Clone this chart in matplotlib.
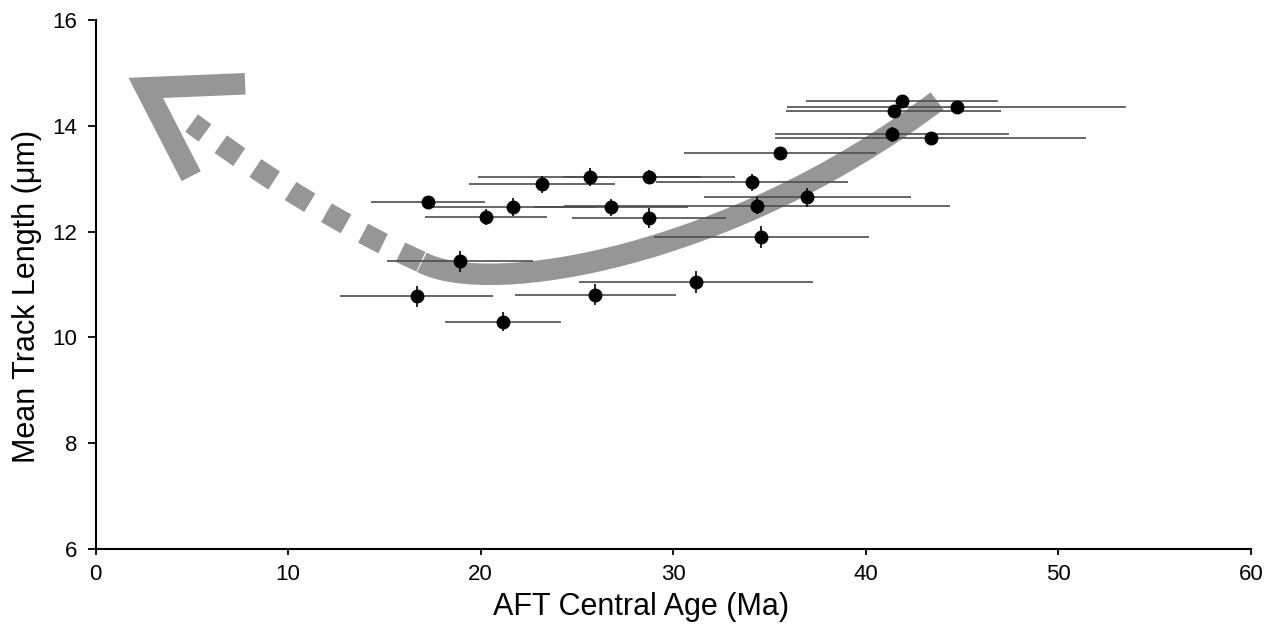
import matplotlib
matplotlib.use("Agg")
import matplotlib.pyplot as plt
import numpy as np
from matplotlib.path import Path
from matplotlib.patches import PathPatch

plt.rcParams['font.family'] = ['Liberation Sans', 'DejaVu Sans']

# ---- data ----
central_age = [17.27, 18.95, 16.67, 21.16, 20.28, 21.68, 23.19, 25.66, 25.96, 26.77,
               28.74, 28.74, 31.18, 34.07, 34.36, 34.57, 35.56, 36.96, 41.35, 41.45,
               41.87, 43.36, 44.71]
mean_track = [12.55, 11.44, 10.78, 10.30, 12.28, 12.47, 12.89, 13.03, 10.81, 12.46,
              13.03, 12.26, 11.04, 12.93, 12.49, 11.90, 13.48, 12.65, 13.84, 14.28,
              14.46, 13.76, 14.36]
age_err = [2.96, 3.79, 3.99, 2.99, 3.19, 4.28, 3.79, 5.78, 4.18, 3.99,
           4.48, 3.99, 6.08, 4.98, 10.01, 5.58, 4.98, 5.38, 6.08, 5.58,
           4.98, 8.07, 8.82]
track_err = [0.12, 0.2, 0.2, 0.18, 0.15, 0.17, 0.16, 0.17, 0.2, 0.16,
             0.14, 0.19, 0.21, 0.16, 0.16, 0.21, 0.1, 0.18, 0.14, 0.1,
             0.1, 0.12, 0.1]

x_ticks = [0, 10, 20, 30, 40, 50, 60]
y_ticks = [6, 8, 10, 12, 14, 16]

# annotation path shapes (data coordinates)
trend_solid = [(16.95, 11.42), (20.43, 10.75), (32.89, 11.5), (43.70, 14.47)]
trend_dashed = [(16.90, 11.43), (11.33, 12.34), (4.99, 14.05)]
arrow_head = [(7.77, 14.794), (2.61, 14.716), (4.97, 13.047)]

band_color = '#969696'

fig = plt.figure(figsize=(12.82, 6.30), dpi=100)
ax = fig.add_axes([0.0745, 0.1286, 0.9013, 0.8397])

# solid trend band
p = Path(trend_solid, [Path.MOVETO, Path.CURVE4, Path.CURVE4, Path.CURVE4])
ax.add_patch(PathPatch(p, facecolor='none', edgecolor=band_color, lw=15.5,
                       capstyle='butt', zorder=1))
# dashed part
pd = Path(trend_dashed, [Path.MOVETO, Path.CURVE3, Path.CURVE3])
ax.add_patch(PathPatch(pd, facecolor='none', edgecolor=band_color, lw=15.5,
                       capstyle='butt', linestyle=(0, (1.05, 0.9)), zorder=1))
# arrow head
ah = np.array(arrow_head)
ax.plot(ah[:, 0], ah[:, 1], color=band_color, lw=15.5, solid_joinstyle='miter',
        solid_capstyle='butt', zorder=1)

# error bars
ax.errorbar(central_age, mean_track, xerr=age_err, fmt='none', ecolor='#4d4d4d',
            elinewidth=1.2, capsize=0, zorder=2)
ax.errorbar(central_age, mean_track, yerr=track_err, fmt='none', ecolor='black',
            elinewidth=1.2, capsize=0, zorder=2)
ax.plot(central_age, mean_track, 'o', color='black', markersize=9, zorder=3)

ax.set_xlim(0, 60)
ax.set_ylim(6, 16)
ax.set_xticks(x_ticks)
ax.set_yticks(y_ticks)
ax.tick_params(axis='both', direction='out', width=1.3, labelsize=16, colors='black')
ax.tick_params(axis='x', length=4.5, pad=6.5)
ax.tick_params(axis='y', length=6, pad=7)
for s in ['top', 'right']:
    ax.spines[s].set_visible(False)
for s in ['left', 'bottom']:
    ax.spines[s].set_linewidth(1.5)
    ax.spines[s].set_color('black')

ax.set_xlabel('AFT Central Age (Ma)', fontsize=22)
ax.set_ylabel('Mean Track Length (μm)', fontsize=22)
ax.xaxis.set_label_coords(0.4725, -0.081)
ax.yaxis.set_label_coords(-0.046, 0.478)

fig.savefig('out.png', dpi=100)
